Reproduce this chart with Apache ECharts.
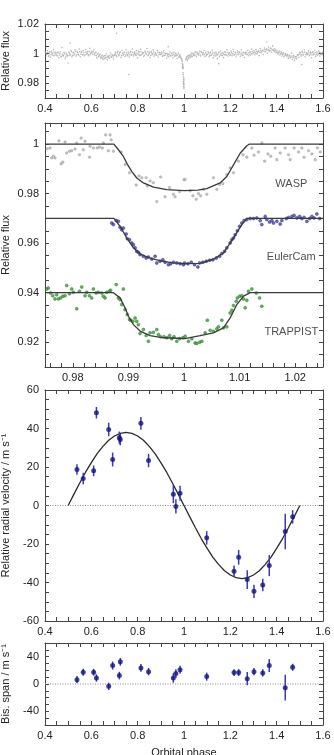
<!DOCTYPE html>
<html>
<head>
<meta charset="utf-8">
<script src="https://cdn.jsdelivr.net/npm/echarts@6/dist/echarts.min.js"></script>
<style>
  html, body { margin: 0; padding: 0; background: #fff; }
  #chart { width: 334px; height: 755px; }
</style>
</head>
<body>
<div id="chart"></div>
<script>
// ---- panel 1: full WASP light curve, [phase, relative flux]
const wideWasp = [
  [0.401,1.0012],[0.406,0.9992],[0.410,1.0021],[0.415,0.9981],[0.419,1.0003],[0.424,0.9976],[0.428,1.0016],[0.433,0.9998],
  [0.437,1.0027],[0.442,0.9987],[0.446,1.0009],[0.451,0.9990],[0.455,1.0011],[0.460,0.9972],[0.464,0.9999],[0.469,0.9982],
  [0.473,1.0041],[0.478,0.9988],[0.482,1.0008],[0.487,0.9965],[0.491,1.0004],[0.496,0.9983],
  [0.500,0.9936],[0.503,1.0010],[0.507,0.9989],[0.508,1.0071],[0.512,1.0022],[0.516,0.9978],[0.521,1.0004],[0.525,0.9991],
  [0.530,1.0025],[0.534,0.9983],[0.539,1.0013],[0.543,0.9995],[0.548,1.0031],[0.552,0.9979],[0.557,1.0008],[0.561,0.9992],
  [0.566,1.0019],[0.570,0.9985],[0.575,1.0028],[0.579,0.9997],[0.584,1.0014],[0.588,0.9986],[0.593,1.0035],[0.597,1.0001],
  [0.602,1.0018],[0.606,0.9994],[0.611,1.0026],[0.615,0.9989],[0.620,1.0009],[0.624,0.9971],[0.629,1.0002],[0.633,0.9983],
  [0.638,0.9996],[0.642,0.9968],[0.647,0.9991],[0.651,0.9961],[0.656,0.9987],[0.660,0.9972],[0.665,0.9999],[0.669,0.9958],
  [0.674,0.9983],[0.678,0.9969],[0.683,1.0004],[0.687,0.9975],[0.692,0.9988],[0.696,0.9962],
  [0.701,0.9993],[0.705,1.0011],[0.709,1.0137],[0.710,0.9978],[0.714,1.0015],[0.719,0.9986],[0.723,1.0007],[0.728,0.9973],
  [0.732,1.0021],[0.737,0.9990],[0.741,1.0004],[0.746,0.9981],[0.750,1.0026],[0.755,0.9994],[0.759,1.0012],[0.762,0.9858],
  [0.764,0.9977],[0.768,1.0008],[0.773,0.9989],[0.777,1.0031],[0.782,0.9984],[0.786,1.0003],[0.791,0.9996],[0.795,1.0019],[0.799,0.9971],
  [0.804,1.0014],[0.808,0.9988],[0.813,1.0029],[0.817,0.9992],[0.822,1.0006],[0.826,0.9979],[0.831,1.0018],[0.835,1.0001],
  [0.840,1.0033],[0.844,0.9985],[0.849,1.0010],[0.853,0.9974],[0.858,1.0015],[0.862,0.9993],[0.867,1.0024],[0.871,0.9983],
  [0.876,1.0005],[0.880,0.9990],[0.885,1.0021],[0.889,0.9977],[0.894,1.0008],[0.898,0.9995],
  [0.903,1.0011],[0.907,0.9981],[0.912,1.0019],[0.916,0.9987],[0.921,1.0002],[0.925,0.9969],[0.930,0.9998],[0.932,1.0047],
  [0.934,0.9978],[0.939,1.0013],[0.943,0.9984],[0.948,1.0001],[0.952,0.9972],[0.957,1.0009],[0.961,0.9986],[0.966,0.9995],
  [0.970,0.9967],[0.975,1.0004],[0.979,0.9979],[0.983,0.9991],[0.987,0.9968],
  [0.990,0.9962],[0.992,0.9948],[0.993,0.9935],[0.994,0.9912],[0.995,0.9898],[0.9955,0.9921],[0.996,0.9871],[0.9965,0.9905],
  [0.997,0.9843],[0.9975,0.9812],[0.9978,0.9827],[0.998,0.9796],[0.9985,0.9778],[0.999,0.9801],[0.9992,0.9835],[0.9995,0.9764],
  [1.000,0.9789],[1.0005,0.9822],
  [1.008,0.9958],[1.011,0.9972],[1.014,0.9951],[1.017,0.9983],[1.020,0.9968],[1.024,0.9991],[1.028,0.9975],[1.032,1.0006],
  [1.036,0.9982],[1.041,0.9996],[1.045,0.9987],[1.050,1.0012],[1.054,0.9979],[1.059,1.0003],[1.063,0.9990],[1.068,1.0017],
  [1.072,0.9984],[1.077,1.0008],[1.081,0.9993],[1.086,1.0021],[1.090,0.9981],[1.095,1.0011],[1.099,0.9996],
  [1.104,1.0014],[1.108,0.9978],[1.113,1.0003],[1.117,0.9987],[1.122,1.0022],[1.126,0.9971],[1.131,1.0009],[1.135,0.9984],
  [1.140,0.9997],[1.144,0.9966],[1.149,1.0005],[1.150,0.9932],[1.153,0.9979],[1.158,1.0018],[1.162,0.9989],[1.167,1.0007],
  [1.171,0.9974],[1.176,1.0012],[1.180,0.9992],[1.185,1.0026],[1.189,0.9983],[1.194,1.0004],[1.198,0.9987],
  [1.203,1.0016],[1.207,0.9986],[1.212,1.0028],[1.216,0.9991],[1.221,1.0007],[1.225,0.9977],[1.230,1.0019],[1.234,0.9995],
  [1.239,1.0011],[1.243,0.9982],[1.248,1.0024],[1.252,0.9988],[1.257,1.0009],[1.261,0.9973],[1.266,1.0005],[1.270,0.9994],
  [1.275,1.0021],[1.279,0.9985],[1.284,1.0013],[1.288,0.9990],[1.293,1.0030],[1.297,0.9997],
  [1.302,1.0019],[1.306,0.9992],[1.311,1.0027],[1.315,0.9998],[1.320,1.0015],[1.324,0.9986],[1.329,1.0034],[1.333,1.0004],
  [1.338,1.0023],[1.342,0.9993],[1.347,1.0038],[1.351,1.0011],[1.356,1.0029],[1.358,1.0078],[1.360,1.0002],[1.365,1.0045],
  [1.369,1.0016],[1.374,1.0037],[1.378,1.0009],[1.383,1.0052],[1.387,1.0021],[1.392,1.0033],[1.396,1.0006],
  [1.401,1.0024],[1.405,0.9997],[1.410,1.0018],[1.414,0.9991],[1.419,1.0012],[1.423,0.9984],[1.428,1.0006],[1.432,0.9978],
  [1.437,1.0001],[1.441,0.9989],[1.446,0.9996],[1.450,0.9968],[1.455,0.9990],[1.459,0.9972],[1.464,1.0003],[1.468,0.9961],
  [1.473,0.9987],[1.477,0.9954],[1.482,0.9979],[1.486,0.9966],[1.491,0.9994],[1.496,0.9975],
  [1.500,1.0008],[1.505,0.9983],[1.508,0.9926],[1.510,1.0015],[1.514,0.9990],[1.519,1.0026],[1.523,0.9979],[1.528,1.0004],
  [1.532,0.9993],[1.537,1.0019],[1.541,0.9986],[1.546,1.0010],[1.550,0.9972],[1.555,1.0007],[1.559,0.9995],[1.564,1.0023],
  [1.568,0.9981],[1.573,1.0012],[1.577,0.9989],[1.582,1.0017],[1.586,0.9984],[1.591,1.0006],[1.595,0.9993],[1.599,1.0011]
];
// second, denser pass through the core of the band
const wideWaspCore = [
  [0.403,1.0004],[0.408,0.9995],[0.412,1.0009],[0.417,0.9989],[0.421,1.0014],[0.426,0.9993],[0.430,1.0006],[0.435,0.9986],
  [0.439,1.0011],[0.444,0.9997],[0.448,1.0002],[0.453,0.9984],[0.457,1.0005],[0.462,0.9991],[0.466,1.0012],[0.471,0.9979],
  [0.475,0.9996],[0.480,0.9985],[0.484,0.9999],[0.489,0.9977],[0.493,0.9993],[0.498,0.9988],
  [0.505,1.0003],[0.510,0.9994],[0.514,1.0012],[0.519,0.9987],[0.523,1.0009],[0.528,0.9998],[0.532,1.0016],[0.537,0.9992],
  [0.541,1.0007],[0.546,0.9989],[0.550,1.0013],[0.555,0.9996],[0.559,1.0018],[0.564,0.9994],[0.568,1.0006],[0.573,0.9991],
  [0.577,1.0011],[0.582,1.0003],[0.586,0.9995],[0.591,1.0015],[0.595,0.9993],[0.599,1.0009],
  [0.604,1.0006],[0.608,1.0013],[0.613,0.9997],[0.617,1.0004],[0.622,0.9985],[0.626,0.9996],[0.631,0.9979],[0.635,0.9991],
  [0.640,0.9976],[0.644,0.9984],[0.649,0.9971],[0.653,0.9980],[0.658,0.9966],[0.662,0.9985],[0.667,0.9973],[0.671,0.9981],
  [0.676,0.9974],[0.680,0.9989],[0.685,0.9978],[0.689,0.9992],[0.694,0.9977],[0.698,0.9986],
  [0.703,1.0002],[0.707,0.9988],[0.712,1.0006],[0.716,0.9993],[0.721,0.9997],[0.725,1.0010],[0.730,0.9986],[0.734,1.0004],
  [0.739,0.9995],[0.743,1.0013],[0.748,0.9991],[0.752,1.0005],[0.757,0.9986],[0.761,1.0001],[0.766,0.9992],[0.770,1.0014],
  [0.775,0.9996],[0.779,1.0007],[0.784,0.9993],[0.788,1.0011],[0.793,0.9988],[0.797,1.0003],
  [0.802,0.9995],[0.806,1.0008],[0.811,0.9991],[0.815,1.0012],[0.820,0.9997],[0.824,1.0005],[0.829,0.9988],[0.833,1.0009],
  [0.838,0.9996],[0.842,1.0014],[0.847,0.9993],[0.851,1.0002],[0.856,0.9987],[0.860,1.0006],[0.865,0.9998],[0.869,1.0011],
  [0.874,0.9994],[0.878,1.0003],[0.883,0.9989],[0.887,1.0007],[0.892,0.9992],[0.896,1.0004],
  [0.901,0.9994],[0.905,1.0003],[0.910,0.9988],[0.914,1.0006],[0.919,0.9992],[0.923,1.0001],[0.928,0.9984],[0.932,0.9993],
  [0.937,0.9997],[0.941,0.9986],[0.946,1.0004],[0.950,0.9989],[0.955,0.9995],[0.959,0.9981],[0.964,1.0002],[0.968,0.9985],
  [0.973,0.9991],[0.977,0.9975],[0.981,0.9989],[0.985,0.9979],[0.988,0.9971],
  [0.991,0.9955],[0.9935,0.9925],[0.9945,0.9905],[0.9968,0.9858],[0.9982,0.9808],[0.9988,0.9790],[0.9998,0.9773],
  [1.009,0.9966],[1.012,0.9978],[1.016,0.9962],[1.019,0.9987],[1.022,0.9975],[1.026,0.9984],[1.030,0.9993],[1.034,0.9981],
  [1.038,1.0001],[1.043,0.9989],[1.047,1.0005],[1.052,0.9992],[1.056,1.0009],[1.061,0.9995],[1.065,1.0004],[1.070,0.9991],
  [1.074,1.0012],[1.079,0.9997],[1.083,1.0006],[1.088,0.9994],[1.092,1.0002],[1.097,0.9988],
  [1.102,0.9996],[1.106,1.0005],[1.111,0.9988],[1.115,1.0010],[1.120,0.9993],[1.124,1.0003],[1.129,0.9985],[1.133,0.9997],
  [1.138,1.0008],[1.142,0.9989],[1.147,0.9994],[1.151,1.0011],[1.156,0.9991],[1.160,1.0002],[1.165,0.9986],[1.169,0.9998],
  [1.174,0.9993],[1.178,1.0007],[1.183,0.9990],[1.187,1.0009],[1.192,0.9996],[1.196,1.0003],
  [1.201,0.9994],[1.205,1.0006],[1.210,0.9998],[1.214,1.0012],[1.219,0.9993],[1.223,1.0004],[1.228,0.9991],[1.232,1.0008],
  [1.237,0.9997],[1.241,1.0010],[1.246,0.9995],[1.250,1.0003],[1.255,0.9989],[1.259,1.0006],[1.264,0.9998],[1.268,1.0011],
  [1.273,0.9994],[1.277,1.0005],[1.282,0.9996],[1.286,1.0009],[1.291,1.0001],[1.295,1.0012],
  [1.300,1.0006],[1.304,1.0011],[1.309,1.0003],[1.313,1.0014],[1.318,1.0005],[1.322,1.0017],[1.327,1.0009],[1.331,1.0019],
  [1.336,1.0012],[1.340,1.0024],[1.345,1.0016],[1.349,1.0027],[1.354,1.0018],[1.358,1.0031],[1.363,1.0022],[1.367,1.0028],
  [1.372,1.0019],[1.376,1.0033],[1.381,1.0024],[1.385,1.0029],[1.390,1.0015],[1.394,1.0022],
  [1.399,1.0013],[1.403,1.0008],[1.408,1.0004],[1.412,1.0011],[1.417,0.9998],[1.421,1.0003],[1.426,0.9993],[1.430,0.9999],
  [1.435,0.9987],[1.439,0.9995],[1.444,0.9982],[1.448,0.9989],[1.453,0.9977],[1.457,0.9984],[1.462,0.9975],[1.466,0.9983],
  [1.471,0.9972],[1.475,0.9981],[1.480,0.9969],[1.484,0.9978],[1.489,0.9985],[1.494,0.9991],
  [1.498,0.9996],[1.503,1.0004],[1.507,0.9993],[1.512,1.0007],[1.517,0.9996],[1.521,1.0010],[1.526,0.9992],[1.530,1.0005],
  [1.535,0.9998],[1.539,1.0009],[1.544,0.9994],[1.548,1.0003],[1.553,0.9990],[1.557,1.0012],[1.562,0.9997],[1.566,1.0006],
  [1.571,0.9993],[1.575,1.0004],[1.580,0.9998],[1.584,1.0008],[1.589,0.9995],[1.593,1.0003],[1.597,0.9996]
];

// ---- panel 2: transit photometry, [phase, relative flux]
const waspTransit = [
  [0.9754,0.9981],[0.9759,0.9984],[0.9762,0.9944],[0.9765,0.9951],[0.9768,0.9944],[0.9775,1.0013],[0.9779,0.9920],[0.9782,0.9927],
  [0.9786,1.0008],[0.9789,0.9964],[0.9794,0.9971],[0.9798,0.9973],[0.9804,0.9980],[0.9807,1.0004],[0.9812,0.9957],[0.9815,1.0024],
  [0.9819,0.9977],[0.9822,1.0011],[0.9830,0.9947],[0.9831,0.9991],[0.9837,0.9984],[0.9844,0.9984],[0.9848,0.9988],[0.9853,0.9984],
  [0.9855,1.0004],[0.9859,1.0037],[0.9864,0.9973],[0.9867,1.0037],[0.9869,1.0017],[0.9873,0.9971],[0.9887,0.9968],[0.9894,0.9917],
  [0.9902,0.9884],[0.9914,0.9835],[0.9919,0.9871],[0.9924,0.9864],[0.9932,0.9864],[0.9934,0.9831],[0.9939,0.9851],[0.9945,0.9844],
  [0.9951,0.9768],[0.9958,0.9867],[0.9966,0.9787],[0.9974,0.9824],[0.9981,0.9797],[0.9984,0.9787],[0.9992,0.9808],[1.0000,0.9856],
  [1.0002,0.9857],[1.0011,0.9811],[1.0016,0.9791],[1.0022,0.9777],[1.0026,0.9800],[1.0030,0.9791],[1.0035,0.9817],[1.0041,0.9797],
  [1.0053,0.9864],[1.0059,0.9817],[1.0064,0.9837],[1.0070,0.9840],[1.0077,0.9877],[1.0083,0.9904],[1.0089,0.9884],[1.0098,0.9931],
  [1.0106,0.9957],[1.0113,0.9947],[1.0122,0.9984],[1.0126,0.9955],[1.0134,0.9968],[1.0140,1.0004],[1.0145,0.9931],[1.0151,0.9960],
  [1.0156,0.9951],[1.0164,0.9984],[1.0167,0.9937],[1.0173,0.9964],[1.0182,0.9984],[1.0188,0.9957],[1.0191,0.9937],[1.0198,0.9984],
  [1.0206,0.9968],[1.0212,0.9984],[1.0216,0.9947],[1.0224,0.9973],[1.0230,0.9960],[1.0236,0.9937],[1.0240,0.9984],[1.0245,0.9968]
];
const eulerTransit = [
  [0.9870,0.9681],[0.9873,0.9675],[0.9878,0.9691],[0.9882,0.9688],[0.9885,0.9664],[0.9888,0.9654],[0.9891,0.9661],[0.9896,0.9637],
  [0.9898,0.9618],[0.9902,0.9614],[0.9906,0.9601],[0.9909,0.9594],[0.9912,0.9581],[0.9915,0.9567],[0.9918,0.9563],[0.9921,0.9554],
  [0.9927,0.9547],[0.9932,0.9540],[0.9936,0.9544],[0.9942,0.9536],[0.9948,0.9547],[0.9951,0.9520],[0.9957,0.9527],[0.9962,0.9533],
  [0.9966,0.9523],[0.9972,0.9513],[0.9976,0.9517],[0.9981,0.9523],[0.9987,0.9520],[0.9993,0.9517],[0.9999,0.9513],[1.0001,0.9520],
  [1.0007,0.9517],[1.0013,0.9523],[1.0019,0.9513],[1.0025,0.9504],[1.0028,0.9520],[1.0034,0.9523],[1.0040,0.9527],[1.0046,0.9531],
  [1.0052,0.9533],[1.0058,0.9540],[1.0064,0.9547],[1.0068,0.9558],[1.0073,0.9567],[1.0077,0.9581],[1.0083,0.9601],[1.0086,0.9614],
  [1.0089,0.9621],[1.0092,0.9634],[1.0096,0.9650],[1.0100,0.9668],[1.0104,0.9681],[1.0108,0.9691],[1.0113,0.9695],[1.0119,0.9699],
  [1.0125,0.9699],[1.0131,0.9702],[1.0137,0.9691],[1.0140,0.9675],[1.0146,0.9708],[1.0149,0.9695],[1.0154,0.9685],[1.0158,0.9691],
  [1.0161,0.9681],[1.0167,0.9688],[1.0173,0.9677],[1.0176,0.9691],[1.0184,0.9699],[1.0188,0.9704],[1.0194,0.9708],[1.0198,0.9712],
  [1.0203,0.9702],[1.0208,0.9708],[1.0212,0.9699],[1.0216,0.9704],[1.0221,0.9688],[1.0226,0.9699],[1.0230,0.9708],[1.0234,0.9702],
  [1.0239,0.9718],[1.0244,0.9699]
];
const trappistTransit = [
  [0.9753,0.9415],[0.9756,0.9419],[0.9760,0.9399],[0.9764,0.9388],[0.9768,0.9375],[0.9771,0.9392],[0.9774,0.9375],[0.9778,0.9379],
  [0.9782,0.9386],[0.9786,0.9388],[0.9789,0.9429],[0.9794,0.9396],[0.9798,0.9415],[0.9801,0.9402],[0.9807,0.9335],[0.9812,0.9406],
  [0.9816,0.9423],[0.9822,0.9388],[0.9825,0.9402],[0.9830,0.9388],[0.9834,0.9379],[0.9837,0.9415],[0.9842,0.9399],[0.9846,0.9402],
  [0.9852,0.9399],[0.9855,0.9386],[0.9858,0.9379],[0.9861,0.9402],[0.9866,0.9406],[0.9868,0.9410],[0.9878,0.9433],[0.9882,0.9379],
  [0.9885,0.9372],[0.9891,0.9415],[0.9888,0.9352],[0.9894,0.9332],[0.9898,0.9312],[0.9902,0.9292],[0.9904,0.9289],[0.9908,0.9285],
  [0.9912,0.9298],[0.9915,0.9285],[0.9918,0.9271],[0.9921,0.9235],[0.9927,0.9251],[0.9932,0.9227],[0.9936,0.9204],[0.9939,0.9238],
  [0.9945,0.9240],[0.9951,0.9251],[0.9954,0.9231],[0.9958,0.9222],[0.9964,0.9222],[0.9969,0.9218],[0.9974,0.9227],[0.9978,0.9214],
  [0.9982,0.9222],[0.9987,0.9204],[0.9992,0.9214],[0.9998,0.9218],[1.0002,0.9224],[1.0008,0.9204],[1.0014,0.9214],[1.0020,0.9197],
  [1.0023,0.9195],[1.0028,0.9200],[1.0032,0.9204],[1.0038,0.9238],[1.0042,0.9289],[1.0047,0.9248],[1.0053,0.9244],[1.0059,0.9254],
  [1.0062,0.9262],[1.0068,0.9289],[1.0071,0.9258],[1.0077,0.9262],[1.0083,0.9318],[1.0086,0.9329],[1.0089,0.9348],[1.0094,0.9365],
  [1.0096,0.9379],[1.0100,0.9386],[1.0104,0.9388],[1.0107,0.9375],[1.0110,0.9339],[1.0113,0.9369],[1.0116,0.9406],[1.0122,0.9415],
  [1.0130,0.9399],[1.0136,0.9379],[1.0140,0.9345]
];

// transit models
const waspModel = [
  [0.975,1],[0.9874,1],[0.9882,0.9977],[0.9891,0.9950],[0.9898,0.9919],[0.9906,0.9890],[0.9915,0.9863],[0.9927,0.9843],
  [0.9945,0.9826],[0.9969,0.9816],[1.0000,0.9812],[1.0025,0.9814],[1.0041,0.9820],[1.0065,0.9843],[1.0077,0.9869],
  [1.0089,0.9916],[1.0101,0.9963],[1.0113,0.9993],[1.0118,1],[1.025,1]
];
const eulerModel = [
  [0.975,0.97],[0.9874,0.97],[0.9885,0.9668],[0.9897,0.9621],[0.9909,0.9581],[0.9921,0.9556],[0.9939,0.9540],[0.9960,0.9527],
  [0.9981,0.9520],[1.0000,0.9517],[1.0029,0.9518],[1.0053,0.9535],[1.0071,0.9560],[1.0089,0.9621],[1.0104,0.9675],
  [1.0113,0.97],[1.025,0.97]
];
const trappistModel = [
  [0.975,0.94],[0.9873,0.94],[0.9885,0.9379],[0.9894,0.9339],[0.9900,0.9305],[0.9909,0.9271],[0.9921,0.9245],[0.9939,0.9227],
  [0.9963,0.9218],[1.0002,0.9215],[1.0029,0.9227],[1.0053,0.9238],[1.0071,0.9258],[1.0083,0.9298],[1.0095,0.9352],
  [1.0107,0.9386],[1.0119,0.94],[1.025,0.94]
];
const transitLabels = [
  { name: 'WASP', value: [1.0193, 0.9840] },
  { name: 'EulerCam', value: [1.0193, 0.9544] },
  { name: 'TRAPPIST', value: [1.0193, 0.9242] }
];

// ---- panels 3 and 4: radial velocities and bisector spans (m/s)
const rvPhase = [0.538, 0.565, 0.610, 0.622, 0.675, 0.692, 0.721, 0.725, 0.814, 0.847, 0.954,
                 0.965, 0.983, 1.098, 1.216, 1.236, 1.273, 1.302, 1.340, 1.368, 1.437, 1.469];
const rvValue = [18.7, 14.0, 18.0, 48.2, 39.5, 23.9, 35.2, 34.3, 42.7, 23.4, 5.9,
                 -0.5, 6.4, -16.8, -34.2, -26.9, -38.5, -44.6, -41.3, -31.2, -13.5, -5.9];
const rvError = [2.7, 3.0, 2.8, 3.0, 3.5, 3.6, 3.2, 3.0, 3.3, 3.5, 4.7,
                 3.7, 3.9, 3.5, 3.0, 3.8, 4.9, 3.4, 3.2, 5.5, 9.2, 3.5];
const bisValue = [6.4, 17.2, 17.2, 8.8, -3.4, 27.0, 12.3, 32.4, 23.5, 18.1, 8.8,
                  15.2, 21.0, 10.8, 16.7, 16.7, 7.8, 18.1, 16.2, 27.0, -5.4, 24.5];
const bisError = [5.4, 5.0, 5.0, 5.4, 5.4, 6.0, 5.6, 5.6, 5.6, 5.4, 7.0,
                  6.5, 5.6, 5.9, 5.0, 5.0, 9.8, 5.4, 5.4, 9.5, 18.8, 5.1];
const rvModelPhase = [0.5, 0.525, 0.55, 0.575, 0.6, 0.625, 0.65, 0.675, 0.7, 0.725, 0.75,
                      0.775, 0.8, 0.825, 0.85, 0.875, 0.9, 0.925, 0.95, 0.975, 1.0,
                      1.025, 1.05, 1.075, 1.1, 1.125, 1.15, 1.175, 1.2, 1.225, 1.25,
                      1.275, 1.3, 1.325, 1.35, 1.375, 1.4, 1.425, 1.45, 1.475, 1.5];
const rvModel = [0, 5.9, 11.7, 17.3, 22.3, 26.9, 30.7, 33.9, 36.1, 37.5, 38,
                 37.5, 36.1, 33.9, 30.7, 26.9, 22.3, 17.3, 11.7, 5.9, 0,
                 -5.9, -11.7, -17.3, -22.3, -26.9, -30.7, -33.9, -36.1, -37.5, -38,
                 -37.5, -36.1, -33.9, -30.7, -26.9, -22.3, -17.3, -11.7, -5.9, 0];

// ---- ticks and tick labels
const phaseLabels = [0.4, 0.6, 0.8, 1, 1.2, 1.4, 1.6];
const phaseTicks = [0.45, 0.5, 0.55, 0.6, 0.65, 0.7, 0.75, 0.8, 0.85, 0.9, 0.95, 1, 1.05,
                    1.1, 1.15, 1.2, 1.25, 1.3, 1.35, 1.4, 1.45, 1.5, 1.55];
const wideFluxLabels = [0.98, 1, 1.02];
const wideFluxTicks = [0.975, 0.98, 0.985, 0.99, 0.995, 1, 1.005, 1.01, 1.015];
const zoomPhaseLabels = [0.98, 0.99, 1, 1.01, 1.02];
const zoomPhaseTicks = [0.976, 0.978, 0.98, 0.982, 0.984, 0.986, 0.988, 0.99, 0.992, 0.994, 0.996, 0.998, 1,
                        1.002, 1.004, 1.006, 1.008, 1.01, 1.012, 1.014, 1.016, 1.018, 1.02, 1.022, 1.024];
const fluxLabels = [0.92, 0.94, 0.96, 0.98, 1];
const fluxTicks = [0.915, 0.92, 0.925, 0.93, 0.935, 0.94, 0.945, 0.95, 0.955, 0.96, 0.965, 0.97,
                   0.975, 0.98, 0.985, 0.99, 0.995, 1, 1.005];
const rvLabels = [-60, -40, -20, 0, 20, 40, 60];
const rvTicks = [-55, -50, -45, -40, -35, -30, -25, -20, -15, -10, -5, 0, 5, 10, 15, 20, 25, 30, 35, 40, 45, 50, 55];
const bisLabels = [-40, 0, 40];
const bisTicks = [-50, -40, -30, -20, -10, 0, 10, 20, 30, 40, 50];

const FONT = '"Liberation Sans", Arial, Helvetica, sans-serif';
const frameColor = '#444';
const textColor = '#222';
const navy = '#14147e';

const chart = echarts.init(document.getElementById('chart'));

const fmt = (v) => String(Math.round(v * 10000) / 10000);

// every grid gets a closed box: bottom/top x axes and left/right y axes, ticks inside
function xAxes(g, min, max, ticks, labels, name) {
  const base = {
    type: 'value', gridIndex: g, min, max,
    splitLine: { show: false },
    axisLine: { show: true, onZero: false, lineStyle: { color: frameColor, width: 1 } },
    axisTick: { show: true, inside: true, length: 4, customValues: ticks, lineStyle: { color: frameColor } },
  };
  const bottom = {
    ...base, position: 'bottom',
    axisLabel: { customValues: labels, formatter: fmt, margin: 5, fontSize: 11, color: textColor, fontFamily: FONT },
  };
  if (name) {
    bottom.name = name;
    bottom.nameLocation = 'middle';
    bottom.nameGap = 22;
    bottom.nameMoveOverlap = false;
    bottom.nameTextStyle = { fontSize: 11, color: textColor, fontFamily: FONT };
  }
  return [bottom, { ...base, position: 'top', axisLabel: { show: false } }];
}

function yAxes(g, min, max, ticks, labels, name) {
  const base = {
    type: 'value', gridIndex: g, min, max,
    splitLine: { show: false },
    axisLine: { show: true, onZero: false, lineStyle: { color: frameColor, width: 1 } },
    axisTick: { show: true, inside: true, length: 4, customValues: ticks, lineStyle: { color: frameColor } },
  };
  return [
    {
      ...base, position: 'left',
      axisLabel: { customValues: labels, formatter: fmt, margin: 6, fontSize: 11, color: textColor, fontFamily: FONT },
      name, nameLocation: 'middle', nameGap: 34, nameMoveOverlap: false,
      nameTextStyle: { fontSize: 11, color: textColor, fontFamily: FONT },
    },
    { ...base, position: 'right', axisLabel: { show: false } },
  ];
}

function errorBars(g, phases, values, errors) {
  return {
    type: 'custom', xAxisIndex: 2 * g, yAxisIndex: 2 * g, silent: true, z: 3,
    data: phases.map((p, i) => [p, values[i] - errors[i], values[i] + errors[i]]),
    renderItem: (params, api) => {
      const lo = api.coord([api.value(0), api.value(1)]);
      const hi = api.coord([api.value(0), api.value(2)]);
      return {
        type: 'line',
        shape: { x1: lo[0], y1: lo[1], x2: hi[0], y2: hi[1] },
        style: { stroke: '#3a3ab4', lineWidth: 1.5 },
      };
    },
  };
}

const modelLine = (g, data) => ({
  type: 'line', xAxisIndex: 2 * g, yAxisIndex: 2 * g, data,
  symbol: 'none', z: 4, lineStyle: { color: '#3a3a3a', width: 1.3 },
});

const zeroLine = (g) => ({
  type: 'line', xAxisIndex: 2 * g, yAxisIndex: 2 * g,
  data: [[0.4, 0], [1.6, 0]], symbol: 'none', z: 1,
  lineStyle: { color: '#8a8a8a', width: 1, type: [1, 1.5] },
});

const option = {
  animation: false,
  backgroundColor: '#fff',
  grid: [
    { left: 45, right: 11, top: 24, height: 74 },
    { left: 45, right: 11, top: 123, height: 244 },
    { left: 45, right: 11, top: 390, height: 231 },
    { left: 45, right: 11, top: 643, height: 82 },
  ].map((g) => ({ ...g, containLabel: false, outerBoundsMode: 'none' })),
  xAxis: [
    ...xAxes(0, 0.4, 1.6, phaseTicks, phaseLabels),
    ...xAxes(1, 0.975, 1.025, zoomPhaseTicks, zoomPhaseLabels),
    ...xAxes(2, 0.4, 1.6, phaseTicks, phaseLabels),
    ...xAxes(3, 0.4, 1.6, phaseTicks, phaseLabels, 'Orbital phase'),
  ],
  yAxis: [
    ...yAxes(0, 0.97, 1.02, wideFluxTicks, wideFluxLabels, 'Relative flux'),
    ...yAxes(1, 0.91, 1.0085, fluxTicks, fluxLabels, 'Relative flux'),
    ...yAxes(2, -60, 60, rvTicks, rvLabels, 'Relative radial velocity / m s\u207B\u00B9'),
    ...yAxes(3, -60, 60, bisTicks, bisLabels, 'Bis. span / m s\u207B\u00B9'),
  ],
  series: [
    {
      type: 'scatter', xAxisIndex: 0, yAxisIndex: 0, data: wideWasp,
      symbolSize: 1.6, itemStyle: { color: '#a8a8a8' }, silent: true,
    },
    {
      type: 'scatter', xAxisIndex: 0, yAxisIndex: 0, data: wideWaspCore,
      symbolSize: 1.6, itemStyle: { color: '#a8a8a8' }, silent: true,
    },
    {
      type: 'scatter', xAxisIndex: 2, yAxisIndex: 2, data: waspTransit,
      symbolSize: 2.6, itemStyle: { color: '#b4b4b4', borderColor: '#8c8c8c', borderWidth: 0.4 }, silent: true,
    },
    {
      type: 'scatter', xAxisIndex: 2, yAxisIndex: 2, data: eulerTransit,
      symbolSize: 3, itemStyle: { color: '#4646b4', borderColor: '#1a1a70', borderWidth: 0.5 }, silent: true,
    },
    {
      type: 'scatter', xAxisIndex: 2, yAxisIndex: 2, data: trappistTransit,
      symbolSize: 3, itemStyle: { color: '#3aa03a', borderColor: '#1d6b1d', borderWidth: 0.5 }, silent: true,
    },
    modelLine(1, waspModel),
    modelLine(1, eulerModel),
    modelLine(1, trappistModel),
    {
      type: 'scatter', xAxisIndex: 2, yAxisIndex: 2, data: transitLabels,
      symbolSize: 0, silent: true,
      label: { show: true, position: 'inside', formatter: '{b}', fontSize: 11, color: textColor, fontFamily: FONT },
    },
    zeroLine(2),
    {
      type: 'line', xAxisIndex: 4, yAxisIndex: 4,
      data: rvModelPhase.map((p, i) => [p, rvModel[i]]),
      symbol: 'none', z: 2, lineStyle: { color: '#2a2a2a', width: 1.3 },
    },
    errorBars(2, rvPhase, rvValue, rvError),
    {
      type: 'scatter', xAxisIndex: 4, yAxisIndex: 4, z: 5,
      data: rvPhase.map((p, i) => [p, rvValue[i]]),
      symbolSize: 5, itemStyle: { color: navy }, silent: true,
    },
    zeroLine(3),
    errorBars(3, rvPhase, bisValue, bisError),
    {
      type: 'scatter', xAxisIndex: 6, yAxisIndex: 6, z: 5,
      data: rvPhase.map((p, i) => [p, bisValue[i]]),
      symbolSize: 5, itemStyle: { color: navy }, silent: true,
    },
  ],
};

chart.setOption(option);
</script>
</body>
</html>
